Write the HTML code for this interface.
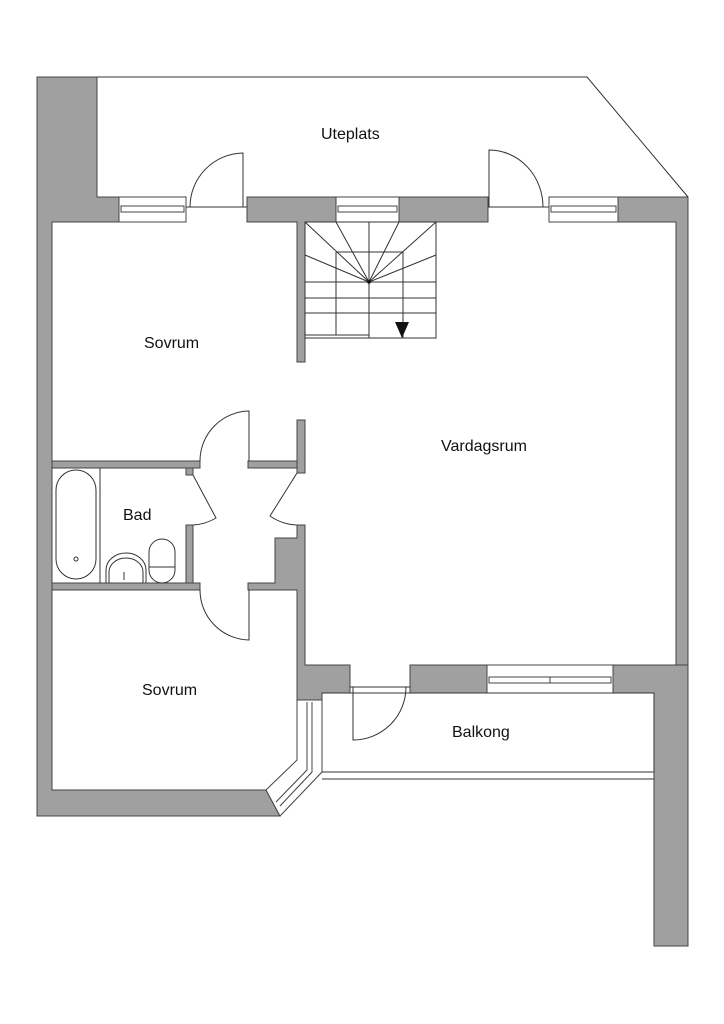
<!DOCTYPE html><html><head><style>html,body{margin:0;padding:0;background:#fff}svg{display:block}text{font-family:"Liberation Sans",sans-serif;font-size:16px;fill:#111}</style></head><body>
<svg width="724" height="1024" viewBox="0 0 724 1024" xmlns="http://www.w3.org/2000/svg">
<g fill="#a0a0a0" stroke="#444" stroke-width="1">
<path d="M37,77 H97 V197 H119 V222 H52 V790 H266 L280,816 H37 Z"/>
<path d="M247,197 H336 V222 H305 V362 H297 V222 H247 Z"/>
<rect x="399" y="197" width="89" height="25"/>
<path d="M618,197 H688 V668 H676 V222 H618 Z"/>
<rect x="52" y="461" width="148" height="7"/>
<rect x="248" y="461" width="57" height="7"/>
<rect x="297" y="420" width="8" height="53"/>
<rect x="186" y="468" width="7" height="7"/>
<rect x="186" y="525" width="7" height="58"/>
<rect x="52" y="583" width="148" height="7"/>
<path d="M248,583 H275 V538 H297 V525 H305 V665 H350 V693 H322 V700 H297 V590 H248 Z"/>
<rect x="410" y="665" width="77" height="28"/>
<path d="M613,665 H688 V946 H654 V693 H613 Z"/>
</g>
<g fill="#fff" stroke="#444" stroke-width="1">
<rect x="119" y="197" width="67" height="25"/><rect x="121" y="206" width="63" height="6"/>
<rect x="336" y="197" width="63" height="25"/><rect x="338" y="206" width="59" height="6"/>
<rect x="549" y="197" width="69" height="25"/><rect x="551" y="206" width="65" height="6"/>
<rect x="487" y="665" width="126" height="28"/><rect x="489" y="677" width="61" height="6"/><rect x="550" y="677" width="61" height="6"/>
<path d="M297,700 V760 L266,790 L280,816 L322,772 V700 Z"/>
<path d="M307,702 V770 L276,802 M312,702 V772 L280,806" fill="none"/>
</g>
<g fill="none" stroke="#333" stroke-width="1">
<path d="M97,77 H587 L688,197"/>
<path d="M186,207 H247 M488,207 H549"/>
<path d="M243,207 V153 A54,54 0 0 0 190,207"/>
<path d="M489,207 V150 A54,57 0 0 1 543,207"/>
<rect x="305" y="222" width="131" height="116"/>
<path d="M369,282 L305,222 M369,282 L336,222 M369,282 L369,222 M369,282 L399,222 M369,282 L436,222 M369,282 L305,255 M369,282 L436,255 M336,252 H403 V338 M336,252 V335 M305,282 H436 M305,298 H436 M305,313 H436 M369,282 V338 M305,335 H369"/>
<path d="M322,693 H654 V772 H322 M322,779 H654"/>
<path d="M350,687 H410 M353,687 V740 A53,53 0 0 0 406,687"/>
<path d="M249,461 V411 A50,50 0 0 0 200,461"/>
<path d="M249,590 V640 A50,50 0 0 1 200,590"/>
<path d="M193,475 L216,518 A50,50 0 0 1 193,525"/>
<path d="M297,473 L270,516 A50,50 0 0 0 297,525"/>
<path d="M100,468 V583"/>
<rect x="56" y="470" width="40" height="109" rx="20"/>
<circle cx="76" cy="559" r="2"/>
<path d="M106,583 V570 A20,17 0 0 1 146,570 V583 M109,583 V572 A17,14 0 0 1 143,572 V583 M124,572 V580"/>
<rect x="149" y="539" width="26" height="44" rx="13"/><path d="M149,567 H175"/>
</g>
<path d="M395,322 H409 L402,338 Z" fill="#111"/>
<circle cx="369" cy="282" r="1.8" fill="#111"/>
<text x="321" y="139">Uteplats</text>
<text x="144" y="348">Sovrum</text>
<text x="441" y="451">Vardagsrum</text>
<text x="123" y="520">Bad</text>
<text x="142" y="695">Sovrum</text>
<text x="452" y="737">Balkong</text>
</svg></body></html>
